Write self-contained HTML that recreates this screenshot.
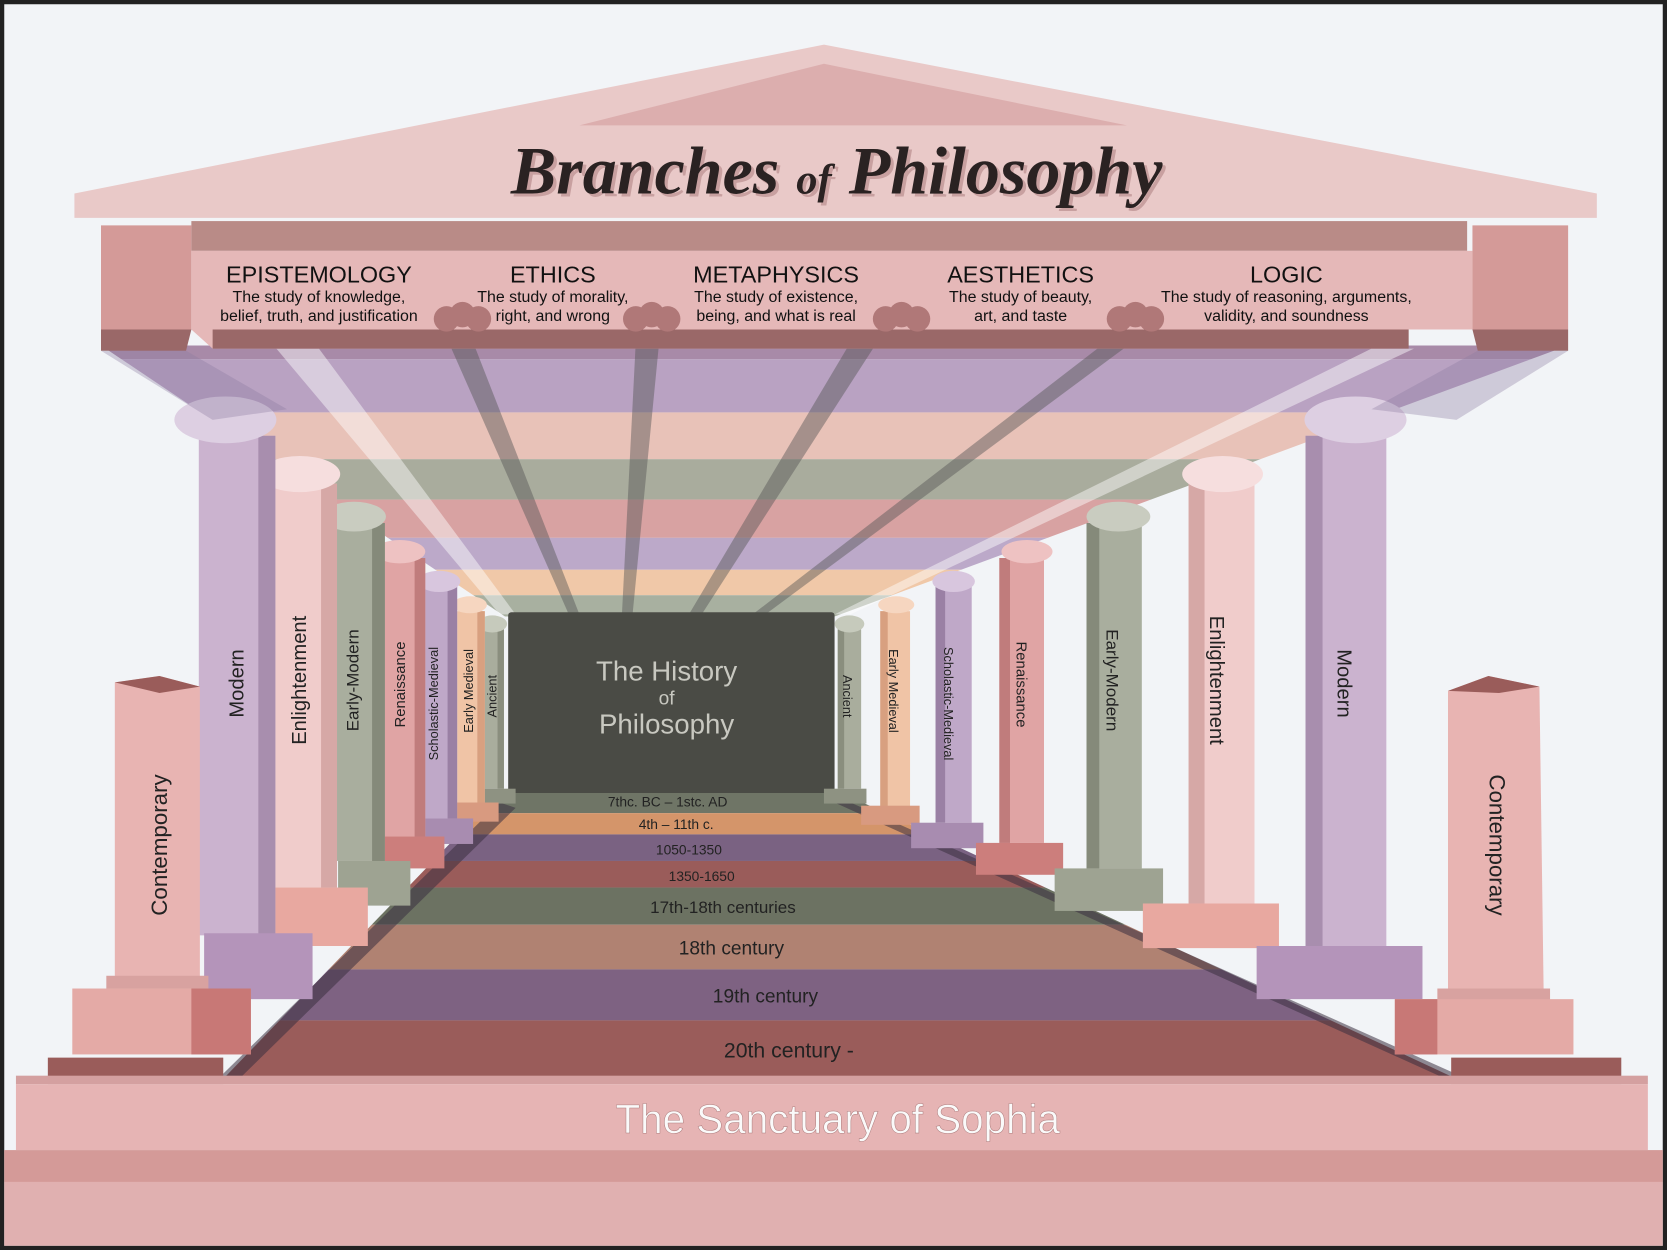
<!DOCTYPE html>
<html><head><meta charset="utf-8"><style>
html,body{margin:0;padding:0;background:#222}
svg{display:block}
text{font-family:"Liberation Sans",sans-serif}
</style></head><body>
<svg width="1667" height="1250" viewBox="0 0 1568 1176" preserveAspectRatio="none" xmlns="http://www.w3.org/2000/svg">
<rect x="0" y="0" width="1568" height="1176" fill="#222"/>
<rect x="4" y="4" width="1560" height="1168" fill="#f2f4f7"/>

<clipPath id="ceil"><polygon points="95,325 1475,325 785,580 475,580"/></clipPath>
<g clip-path="url(#ceil)">
<rect x="0" y="320" width="1568" height="18" fill="#a88aa8"/>
<rect x="0" y="338" width="1568" height="50" fill="#b9a2c2"/>
<rect x="0" y="388" width="1568" height="44" fill="#e8c2b8"/>
<rect x="0" y="432" width="1568" height="38" fill="#a9ac9d"/>
<rect x="0" y="470" width="1568" height="36" fill="#d8a2a2"/>
<rect x="0" y="506" width="1568" height="30" fill="#bca9c9"/>
<rect x="0" y="536" width="1568" height="24" fill="#f0c8a8"/>
<rect x="0" y="560" width="1568" height="20" fill="#a8b0a0"/>
</g>
<polygon points="260,328 300,328 485,578 470,578" fill="#fff" opacity="0.45"/>
<polygon points="1290,328 1330,328 800,578 785,578" fill="#fff" opacity="0.45"/>
<polygon points="422,322 445,322 545,578 535,578" fill="#555" opacity="0.45"/>
<polygon points="598,322 620,322 595,578 585,578" fill="#555" opacity="0.45"/>
<polygon points="800,322 825,322 660,578 648,578" fill="#555" opacity="0.45"/>
<polygon points="1040,322 1065,322 720,578 708,578" fill="#555" opacity="0.45"/>

<clipPath id="floor"><polygon points="470,745 790,745 1370,1015 210,1015"/></clipPath>
<g clip-path="url(#floor)">
<rect x="0" y="745" width="1568" height="20" fill="#6f7566"/>
<rect x="0" y="765" width="1568" height="20" fill="#d4956a"/>
<rect x="0" y="785" width="1568" height="25" fill="#7a6282"/>
<rect x="0" y="810" width="1568" height="25" fill="#9a5c5a"/>
<rect x="0" y="835" width="1568" height="35" fill="#6c7262"/>
<rect x="0" y="870" width="1568" height="42" fill="#b08272"/>
<rect x="0" y="912" width="1568" height="48" fill="#7e6282"/>
<rect x="0" y="960" width="1568" height="55" fill="#9a5c5a"/>
</g>
<polygon points="470,755 485,760 225,1015 205,1015" fill="#3a3040" opacity="0.55"/>
<polygon points="785,755 800,755 1380,1015 1360,1015" fill="#3a3040" opacity="0.55"/>
<g fill="#222" font-size="13" text-anchor="middle">
<text x="628" y="759">7thc. BC – 1stc. AD</text>
<text x="636" y="780">4th – 11th c.</text>
<text x="648" y="804">1050-1350</text>
<text x="660" y="829">1350-1650</text>
</g>
<g fill="#222" text-anchor="middle">
<text x="680" y="859" font-size="16">17th-18th centuries</text>
<text x="688" y="898" font-size="18">18th century</text>
<text x="720" y="943" font-size="18">19th century</text>
<text x="742" y="995" font-size="20">20th century -</text>
</g>

<rect x="478" y="576" width="307" height="170" rx="3" fill="#4a4b45"/>
<g fill="#c8c8c0" text-anchor="middle">
<text x="627" y="640" font-size="26">The History</text>
<text x="627" y="663" font-size="18">of</text>
<text x="627" y="690" font-size="26">Philosophy</text>
</g>

<polygon points="45,995 210,995 210,1020 45,1020" fill="#9a5c5a"/>
<polygon points="1365,995 1525,995 1525,1020 1365,1020" fill="#9a5c5a"/>

<g>
<rect x="452" y="592" width="22" height="150" fill="#a9ad9d"/><rect x="468" y="592" width="6" height="150" fill="#8a8e7e"/>
<ellipse cx="463" cy="587" rx="14" ry="8" fill="#c6cabc"/><rect x="447" y="742" width="38" height="14" fill="#8e9282"/>
<text transform="translate(467,655) rotate(-90)" font-size="12" text-anchor="middle" fill="#222">Ancient</text>

<rect x="430" y="575" width="26" height="180" fill="#f0c4a6"/><rect x="449" y="575" width="7" height="180" fill="#d8a080"/>
<ellipse cx="442" cy="569" rx="16" ry="8" fill="#f6d6c0"/><rect x="424" y="755" width="45" height="18" fill="#d89a80"/>
<text transform="translate(445,650) rotate(-90)" font-size="12" text-anchor="middle" fill="#222">Early Medieval</text>

<rect x="398" y="552" width="32" height="218" fill="#bfa8c8"/><rect x="421" y="552" width="9" height="218" fill="#9a80a4"/>
<ellipse cx="413" cy="547" rx="20" ry="10" fill="#d8c6de"/><rect x="390" y="770" width="55" height="24" fill="#a88cb0"/>
<text transform="translate(412,662) rotate(-90)" font-size="12" text-anchor="middle" fill="#222">Scholastic-Medieval</text>

<rect x="360" y="525" width="40" height="262" fill="#e0a4a4"/><rect x="390" y="525" width="10" height="262" fill="#c07c7c"/>
<ellipse cx="376" cy="519" rx="24" ry="11" fill="#eec2c2"/><rect x="350" y="787" width="68" height="30" fill="#cc7e7c"/>
<text transform="translate(381,644) rotate(-90)" font-size="14" text-anchor="middle" fill="#222">Renaissance</text>

<rect x="312" y="492" width="50" height="318" fill="#a9ae9e"/><rect x="350" y="492" width="12" height="318" fill="#858a7a"/>
<ellipse cx="333" cy="486" rx="30" ry="14" fill="#c9ccc0"/><rect x="318" y="810" width="68" height="42" fill="#9ea392"/>
<text transform="translate(337,640) rotate(-90)" font-size="16" text-anchor="middle" fill="#222">Early-Modern</text>

<rect x="255" y="455" width="62" height="380" fill="#f0cccb"/><rect x="302" y="455" width="15" height="380" fill="#d6a8a6"/>
<ellipse cx="282" cy="446" rx="38" ry="17" fill="#f6dede"/><rect x="258" y="835" width="88" height="55" fill="#e8a8a0"/>
<text transform="translate(288,640) rotate(-90)" font-size="19" text-anchor="middle" fill="#222">Enlightenment</text>

<rect x="187" y="410" width="72" height="470" fill="#cbb3cf"/><rect x="243" y="410" width="16" height="470" fill="#a88eae"/>
<ellipse cx="212" cy="395" rx="48" ry="22" fill="#ddcfe2"/><rect x="192" y="878" width="102" height="62" fill="#b494ba"/>
<text transform="translate(229,643) rotate(-90)" font-size="19" text-anchor="middle" fill="#222">Modern</text>

<polygon points="108,642 150,636 188,646 188,920 108,920" fill="#e8b4b2"/>
<polygon points="108,642 150,636 188,646 150,652" fill="#9a5c5a"/>
<rect x="100" y="918" width="96" height="12" fill="#d8a2a0"/>
<rect x="68" y="930" width="168" height="62" fill="#e4aaa6"/><rect x="180" y="930" width="56" height="62" fill="#c87876"/>
<text transform="translate(157,795) rotate(-90)" font-size="21" text-anchor="middle" fill="#222">Contemporary</text>
</g>

<g>
<rect x="788" y="592" width="22" height="150" fill="#a9ad9d"/><rect x="788" y="592" width="6" height="150" fill="#8a8e7e"/>
<ellipse cx="799" cy="587" rx="14" ry="8" fill="#c6cabc"/><rect x="775" y="742" width="40" height="14" fill="#8e9282"/>
<text transform="translate(793,655) rotate(90)" font-size="12" text-anchor="middle" fill="#222">Ancient</text>

<rect x="828" y="575" width="28" height="185" fill="#f0c4a6"/><rect x="828" y="575" width="7" height="185" fill="#d8a080"/>
<ellipse cx="843" cy="569" rx="17" ry="8" fill="#f6d6c0"/><rect x="810" y="758" width="55" height="18" fill="#d89a80"/>
<text transform="translate(836,650) rotate(90)" font-size="12" text-anchor="middle" fill="#222">Early Medieval</text>

<rect x="880" y="552" width="34" height="222" fill="#bfa8c8"/><rect x="880" y="552" width="9" height="222" fill="#9a80a4"/>
<ellipse cx="897" cy="547" rx="20" ry="10" fill="#d8c6de"/><rect x="857" y="774" width="68" height="24" fill="#a88cb0"/>
<text transform="translate(888,662) rotate(90)" font-size="12" text-anchor="middle" fill="#222">Scholastic-Medieval</text>

<rect x="940" y="525" width="42" height="268" fill="#e0a4a4"/><rect x="940" y="525" width="10" height="268" fill="#c07c7c"/>
<ellipse cx="966" cy="519" rx="24" ry="11" fill="#eec2c2"/><rect x="918" y="793" width="82" height="30" fill="#cc7e7c"/>
<text transform="translate(956,644) rotate(90)" font-size="14" text-anchor="middle" fill="#222">Renaissance</text>

<rect x="1022" y="492" width="52" height="325" fill="#a9ae9e"/><rect x="1022" y="492" width="12" height="325" fill="#858a7a"/>
<ellipse cx="1052" cy="486" rx="30" ry="14" fill="#c9ccc0"/><rect x="992" y="817" width="102" height="40" fill="#9ea392"/>
<text transform="translate(1041,640) rotate(90)" font-size="16" text-anchor="middle" fill="#222">Early-Modern</text>

<rect x="1118" y="455" width="62" height="395" fill="#f0cccb"/><rect x="1118" y="455" width="15" height="395" fill="#d6a8a6"/>
<ellipse cx="1150" cy="446" rx="38" ry="17" fill="#f6dede"/><rect x="1075" y="850" width="128" height="42" fill="#e8a8a0"/>
<text transform="translate(1138,640) rotate(90)" font-size="19" text-anchor="middle" fill="#222">Enlightenment</text>

<rect x="1228" y="410" width="76" height="480" fill="#cbb3cf"/><rect x="1228" y="410" width="16" height="480" fill="#a88eae"/>
<ellipse cx="1275" cy="395" rx="48" ry="22" fill="#ddcfe2"/><rect x="1182" y="890" width="156" height="50" fill="#b494ba"/>
<text transform="translate(1258,643) rotate(90)" font-size="19" text-anchor="middle" fill="#222">Modern</text>

<polygon points="1362,650 1400,636 1448,646 1452,935 1362,935" fill="#e8b4b2"/>
<polygon points="1362,650 1400,636 1448,646 1410,652" fill="#9a5c5a"/>
<rect x="1352" y="930" width="106" height="12" fill="#d8a2a0"/>
<rect x="1312" y="940" width="168" height="52" fill="#e4aaa6"/><rect x="1312" y="940" width="40" height="52" fill="#c87876"/>
<text transform="translate(1401,795) rotate(90)" font-size="21" text-anchor="middle" fill="#222">Contemporary</text>
</g>

<rect x="15" y="1012" width="1535" height="8" fill="#d4a0a0"/>
<rect x="15" y="1020" width="1535" height="62" fill="#e6b4b4"/>
<rect x="4" y="1082" width="1560" height="30" fill="#d49a98"/>
<rect x="4" y="1112" width="1560" height="60" fill="#e0b0b0"/>
<text x="788" y="1066" font-size="38" fill="#fafafa" text-anchor="middle" stroke="#b08080" stroke-width="0.5">The Sanctuary of Sophia</text>

<polygon points="70,182 775,42 1502,182 1502,205 70,205" fill="#e9c9c8"/>
<polygon points="545,118 775,60 1060,118" fill="#dcaeae"/>
<rect x="180" y="208" width="1200" height="28" fill="#b98b87"/>
<polygon points="95,212 180,212 180,310 95,310" fill="#d49a98"/>
<polygon points="1385,212 1475,212 1475,310 1385,310" fill="#d49a98"/>
<polygon points="95,310 180,310 175,330 95,330" fill="#9a6868"/>
<polygon points="1385,310 1475,310 1475,330 1390,330" fill="#9a6868"/>
<polygon points="180,236 1385,236 1385,310 1325,310 1305,328 200,328 180,310" fill="#e5b8b8"/>
<rect x="200" y="310" width="1125" height="18" fill="#9a6868"/>
<polygon points="95,330 175,330 270,385 200,395" fill="#8c7aa0" opacity="0.35"/>
<polygon points="1475,330 1390,330 1290,385 1370,395" fill="#8c7aa0" opacity="0.35"/>
<g fill="#b07878">
<circle cx="420" cy="300" r="12"/><circle cx="435" cy="296" r="12"/><circle cx="450" cy="300" r="12"/>
<circle cx="598" cy="300" r="12"/><circle cx="613" cy="296" r="12"/><circle cx="628" cy="300" r="12"/>
<circle cx="833" cy="300" r="12"/><circle cx="848" cy="296" r="12"/><circle cx="863" cy="300" r="12"/>
<circle cx="1053" cy="300" r="12"/><circle cx="1068" cy="296" r="12"/><circle cx="1083" cy="300" r="12"/>
</g>
<text x="790" y="185" style="font-family:'Liberation Serif',serif;font-style:italic;font-weight:bold;font-size:64px" text-anchor="middle" fill="#c8a0a0">Branches <tspan style="font-size:40px">of</tspan> Philosophy</text>
<text x="787" y="182" style="font-family:'Liberation Serif',serif;font-style:italic;font-weight:bold;font-size:64px" text-anchor="middle" fill="#2a2222">Branches <tspan style="font-size:40px">of</tspan> Philosophy</text>

<g text-anchor="middle" fill="#111">
<text x="300" y="266" font-size="22">EPISTEMOLOGY</text>
<text x="300" y="284" font-size="15">The study of knowledge,</text>
<text x="300" y="302" font-size="15">belief, truth, and justification</text>
<text x="520" y="266" font-size="22">ETHICS</text>
<text x="520" y="284" font-size="15">The study of morality,</text>
<text x="520" y="302" font-size="15">right, and wrong</text>
<text x="730" y="266" font-size="22">METAPHYSICS</text>
<text x="730" y="284" font-size="15">The study of existence,</text>
<text x="730" y="302" font-size="15">being, and what is real</text>
<text x="960" y="266" font-size="22">AESTHETICS</text>
<text x="960" y="284" font-size="15">The study of beauty,</text>
<text x="960" y="302" font-size="15">art, and taste</text>
<text x="1210" y="266" font-size="22">LOGIC</text>
<text x="1210" y="284" font-size="15">The study of reasoning, arguments,</text>
<text x="1210" y="302" font-size="15">validity, and soundness</text>
</g>
</svg>
</body></html>
